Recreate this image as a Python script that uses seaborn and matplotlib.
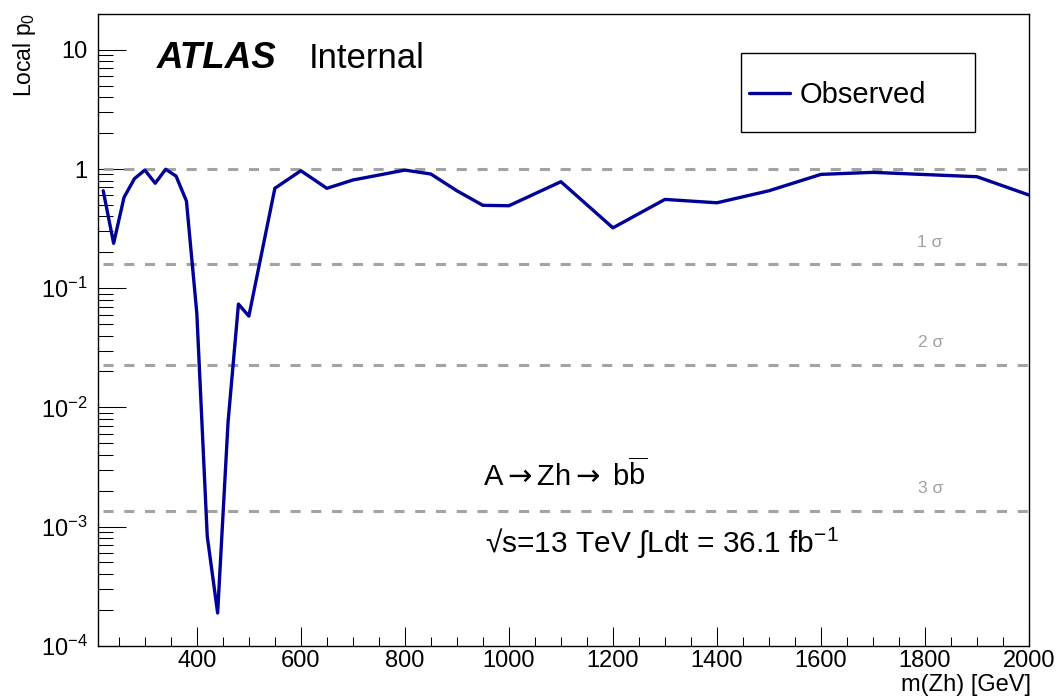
import matplotlib
matplotlib.use("Agg")
import matplotlib.pyplot as plt
from matplotlib.ticker import FixedLocator, FixedFormatter, MultipleLocator, NullFormatter
from matplotlib.patches import Rectangle
import numpy as np
import pandas as pd
import seaborn as sns

# Observed local p0 versus the A boson mass hypothesis
mass = [220, 240, 260, 280, 300, 320, 340, 360, 380, 400, 420, 440, 460, 480, 500,
        550, 600, 650, 700, 750, 800, 850, 900, 950, 1000, 1100, 1200, 1300, 1400,
        1500, 1600, 1700, 1800, 1900, 2000]
p0_obs = [0.657, 0.238, 0.578, 0.83, 0.98, 0.76, 0.995, 0.873, 0.539, 0.0614,
          0.00083, 0.000188, 0.0075, 0.0736, 0.0583, 0.689, 0.968, 0.689, 0.809,
          0.89, 0.98, 0.908, 0.657, 0.496, 0.492, 0.783, 0.321, 0.556, 0.521,
          0.657, 0.902, 0.938, 0.899, 0.862, 0.605]

# Reference lines: p0 = 1 and the one-sided 1, 2, 3 sigma levels
ref_p = [1.0, 0.1587, 0.02275, 0.00135]
ref_labels = ["", "1 σ", "2 σ", "3 σ"]

ytick_vals = [1e-4, 1e-3, 1e-2, 1e-1, 1, 10]
ytick_text = [r"$10^{-4}$", r"$10^{-3}$", r"$10^{-2}$", r"$10^{-1}$", "1", "10"]

df = pd.DataFrame({"mass": mass, "p0": p0_obs})

sns.set_style("ticks")
plt.rcParams["font.family"] = ["Liberation Sans", "DejaVu Sans"]
plt.rcParams["mathtext.fontset"] = "custom"
plt.rcParams["mathtext.rm"] = "Liberation Sans"
plt.rcParams["mathtext.it"] = "Liberation Sans:italic"
plt.rcParams["mathtext.bf"] = "Liberation Sans:bold"
plt.rcParams["mathtext.sf"] = "DejaVu Sans"
plt.rcParams["text.color"] = "black"
plt.rcParams["axes.labelcolor"] = "black"
plt.rcParams["xtick.color"] = "black"
plt.rcParams["ytick.color"] = "black"

W, H = 1058, 697
fig = plt.figure(figsize=(W / 100, H / 100), dpi=100)
ax = fig.add_axes([97.5 / W, 1 - 645.7 / H, (1029 - 97.5) / W, (645.7 - 14) / H])
ax.set_yscale("log")

gray = "#a3a3a3"
for p, lab in zip(ref_p, ref_labels):
    ax.hlines(p, mass[0], mass[-1], colors=gray, linestyles=(0, (3.3, 3.5)),
              linewidth=2.2, zorder=1)
    if lab:
        ax.annotate(lab, xy=(1810, p), xytext=(0, 16),
                    textcoords="offset points", ha="center", va="center",
                    fontsize=12.5, color="#a0a0a0")

sns.lineplot(data=df, x="mass", y="p0", ax=ax, color="#000099", linewidth=2.4,
             sort=False, estimator=None, label="Observed", zorder=3)

ax.set_xlim(209, 2000)
ax.set_ylim(1e-4, 20)

# Axis ticks, ROOT style (inward, left and bottom only)
ax.xaxis.set_major_locator(MultipleLocator(200))
ax.xaxis.set_minor_locator(MultipleLocator(50))
ax.yaxis.set_major_locator(FixedLocator(ytick_vals))
ax.yaxis.set_major_formatter(FixedFormatter(ytick_text))
minor = [m * 10.0 ** e for e in range(-4, 2) for m in range(2, 10)]
ax.yaxis.set_minor_locator(FixedLocator(minor))
ax.yaxis.set_minor_formatter(NullFormatter())
ax.tick_params(axis="both", which="both", direction="in", top=False, right=False,
               width=0.75, colors="black")
ax.tick_params(axis="x", which="major", length=13.7, pad=3, labelsize=17)
ax.tick_params(axis="x", which="minor", length=6.7)
ax.tick_params(axis="y", which="major", length=20, pad=7, labelsize=17)
ax.tick_params(axis="y", which="minor", length=10.6)
for s in ax.spines.values():
    s.set_linewidth(1.0)
    s.set_color("black")

ax.set_xlabel("")
ax.set_ylabel("")
fig.text(1031 / W, 1 - 685 / H, "m(Zh) [GeV]", ha="right", va="center", fontsize=17)
fig.text(24 / W, 1 - 13 / H, r"Local p$_{0}$", rotation=90, ha="center", va="top",
         fontsize=16.5)

# Labels
ax.text(0.064, 0.914, "ATLAS", transform=ax.transAxes, fontsize=26.5,
        fontweight="bold", fontstyle="italic", va="baseline", ha="left")
ax.text(0.227, 0.914, "Internal", transform=ax.transAxes, fontsize=25,
        va="baseline", ha="left")
ax.text(0.414, 0.2528,
        r"A$\mathsf{\rightarrow}$Zh$\mathsf{\rightarrow}$ b$\overline{\mathrm{b}}$",
        transform=ax.transAxes, fontsize=21, va="baseline", ha="left")
ax.text(0.416, 0.1488, "√s=13 TeV ∫Ldt = 36.1 fb$^{-1}$",
        transform=ax.transAxes, fontsize=21.5, va="baseline", ha="left")

# Legend box
ax.add_patch(Rectangle((0.6905, 0.8127), 0.942 - 0.6905, 0.9387 - 0.8127,
                       transform=ax.transAxes, facecolor="white",
                       edgecolor="black", linewidth=1.0, zorder=4))
ax.legend(loc="center left", bbox_to_anchor=(0.6994, 0.871), frameon=False,
          fontsize=21, handlelength=1.42, handletextpad=0.32, borderpad=0,
          borderaxespad=0).set_zorder(5)

fig.savefig("out.png", dpi=100)
